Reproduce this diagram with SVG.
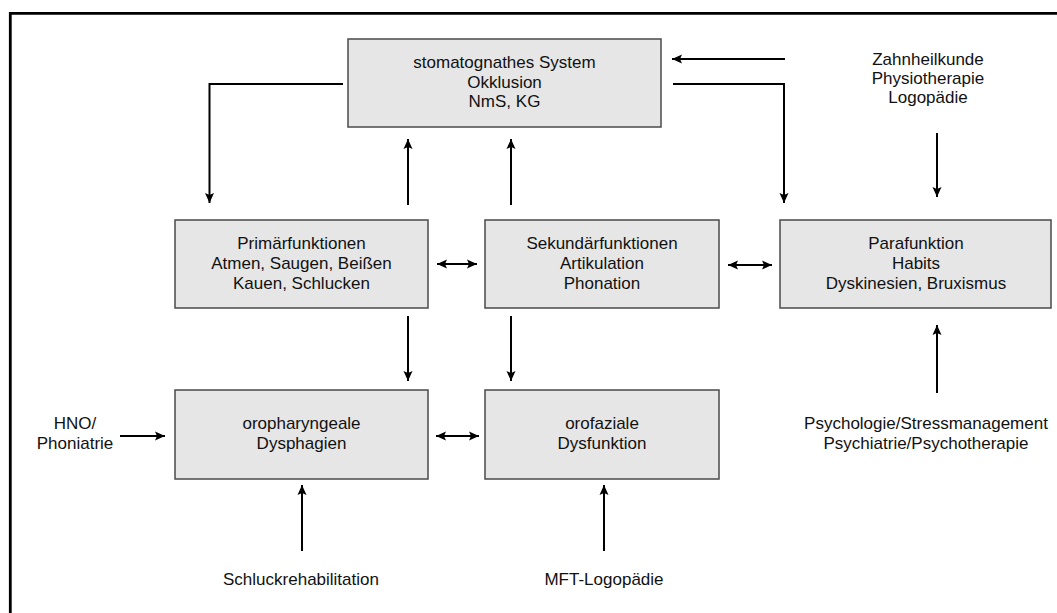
<svg xmlns="http://www.w3.org/2000/svg" width="1057" height="613" viewBox="0 0 1057 613">
<style>
.box{fill:#e6e6e6;stroke:#4a4a4a;stroke-width:1.5}
.t{font-family:"Liberation Sans",Arial,Helvetica,sans-serif;font-size:17px;fill:#111;text-anchor:middle}
.c{fill:none;stroke:#000;stroke-width:2}
</style>
<defs>
<marker id="ah" markerUnits="userSpaceOnUse" markerWidth="12" markerHeight="12" viewBox="0 0 12 12" refX="11" refY="6" orient="auto-start-reverse">
<path d="M1,1.5 L11,6 L1,10.5 L3,6 Z" fill="#000"/>
</marker>
</defs>
<rect width="1057" height="613" fill="#fff"/>
<path d="M10.3,613 V13.3 H1057" fill="none" stroke="#000" stroke-width="2.8"/>

<g id="n-stoma"><rect class="box" x="348" y="39" width="313" height="88"/>
<text class="t" x="504.5" y="68">stomatognathes System</text>
<text class="t" x="504.5" y="87.5">Okklusion</text>
<text class="t" x="504.5" y="107">NmS, KG</text></g>

<g id="n-primaer"><rect class="box" x="175" y="220" width="253" height="88"/>
<text class="t" x="301.5" y="249">Primärfunktionen</text>
<text class="t" x="301.5" y="269">Atmen, Saugen, Beißen</text>
<text class="t" x="301.5" y="289">Kauen, Schlucken</text></g>

<g id="n-sekundaer"><rect class="box" x="485" y="220" width="234" height="88"/>
<text class="t" x="602" y="249">Sekundärfunktionen</text>
<text class="t" x="602" y="269">Artikulation</text>
<text class="t" x="602" y="289">Phonation</text></g>

<g id="n-para"><rect class="box" x="780" y="220" width="271" height="88"/>
<text class="t" x="916" y="249">Parafunktion</text>
<text class="t" x="916" y="269">Habits</text>
<text class="t" x="916" y="289">Dyskinesien, Bruxismus</text></g>

<g id="n-oroph"><rect class="box" x="175" y="390" width="253" height="89"/>
<text class="t" x="301.5" y="428.5">oropharyngeale</text>
<text class="t" x="301.5" y="448.5">Dysphagien</text></g>

<g id="n-orofaz"><rect class="box" x="485" y="390" width="234" height="89"/>
<text class="t" x="602" y="428.5">orofaziale</text>
<text class="t" x="602" y="448.5">Dysfunktion</text></g>

<g id="n-zahn">
<text class="t" x="928" y="65">Zahnheilkunde</text>
<text class="t" x="928" y="84">Physiotherapie</text>
<text class="t" x="928" y="103">Logopädie</text></g>

<g id="n-hno">
<text class="t" x="75" y="429">HNO/</text>
<text class="t" x="75" y="449">Phoniatrie</text></g>

<g id="n-psych">
<text class="t" x="926" y="429">Psychologie/Stressmanagement</text>
<text class="t" x="926" y="449">Psychiatrie/Psychotherapie</text></g>

<g id="n-schluck"><text class="t" x="301" y="585">Schluckrehabilitation</text></g>
<g id="n-mft"><text class="t" x="604" y="585">MFT-Logopädie</text></g>

<g id="connectors">
<path class="c" d="M343,84 H209.5 V203" marker-end="url(#ah)"/>
<path class="c" d="M785,59 H672" marker-end="url(#ah)"/>
<path class="c" d="M673,84 H784 V203" marker-end="url(#ah)"/>
<path class="c" d="M937,133 V197" marker-end="url(#ah)"/>
<path class="c" d="M408,205 V139" marker-end="url(#ah)"/>
<path class="c" d="M511,205 V139" marker-end="url(#ah)"/>
<path class="c" d="M437,264 H477" marker-start="url(#ah)" marker-end="url(#ah)"/>
<path class="c" d="M728,265 H772" marker-start="url(#ah)" marker-end="url(#ah)"/>
<path class="c" d="M436,436 H479" marker-start="url(#ah)" marker-end="url(#ah)"/>
<path class="c" d="M408,316 V381" marker-end="url(#ah)"/>
<path class="c" d="M511,316 V381" marker-end="url(#ah)"/>
<path class="c" d="M120,436 H165" marker-end="url(#ah)"/>
<path class="c" d="M937,393 V325" marker-end="url(#ah)"/>
<path class="c" d="M302,551 V485" marker-end="url(#ah)"/>
<path class="c" d="M604,551 V485" marker-end="url(#ah)"/>
</g>
</svg>
